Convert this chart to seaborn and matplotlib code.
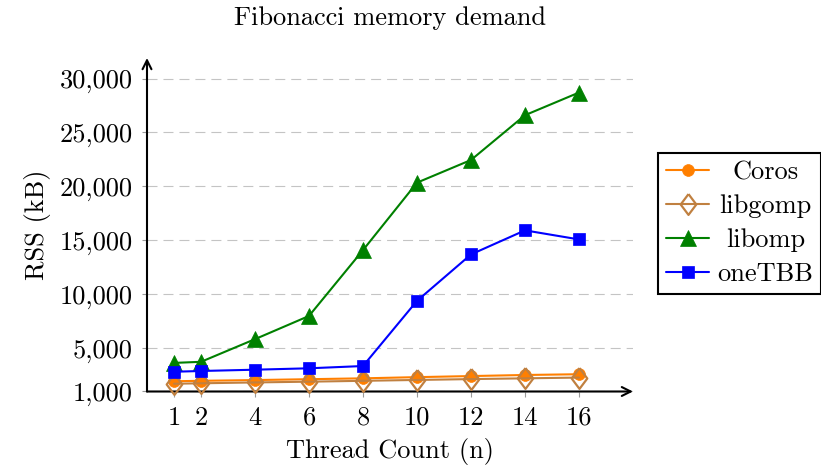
import matplotlib
matplotlib.use("Agg")
import matplotlib.pyplot as plt
import matplotlib.ticker as mticker
import matplotlib.transforms as mtransforms
import seaborn as sns
import pandas as pd

threads = [1, 2, 4, 6, 8, 10, 12, 14, 16]
coros = [1950, 1990, 2060, 2140, 2220, 2330, 2430, 2530, 2600]
libgomp = [1720, 1760, 1840, 1910, 1990, 2070, 2150, 2220, 2290]
libomp = [3650, 3750, 5850, 8000, 14100, 20350, 22450, 26600, 28700]
onetbb = [2830, 2900, 3020, 3150, 3360, 9400, 13700, 15930, 15090]
series_names = ["Coros", "libgomp", "libomp", "oneTBB"]
yticks = [1000, 5000, 10000, 15000, 20000, 25000, 30000]
xticks = threads

sns.set_theme(style="white")
plt.rcParams["font.family"] = ["cmr10", "DejaVu Serif"]
plt.rcParams["mathtext.fontset"] = "cm"
plt.rcParams["axes.formatter.use_mathtext"] = True
plt.rcParams["lines.scale_dashes"] = False
plt.rcParams["text.color"] = "black"
plt.rcParams["axes.labelcolor"] = "black"
plt.rcParams["xtick.labelcolor"] = "black"
plt.rcParams["ytick.labelcolor"] = "black"

FS = 19

fig = plt.figure(figsize=(8.21, 4.70), dpi=100)
ax = fig.add_axes([147 / 821, 1 - 391.5 / 470, (633 - 147) / 821, (391.5 - 58) / 470])

diamond = [(0, 1), (0.75, 0), (0, -1), (-0.75, 0), (0, 1)]
styles = {
    "Coros": dict(color="#ff7f00", marker="o", markersize=8.5, mfc="#ff7f00", mec="#ff7f00", mew=0.5),
    "libgomp": dict(color="#c08040", marker=diamond, markersize=15, mfc="none", mec="#c08040", mew=1.6),
    "libomp": dict(color="#008000", marker="^", markersize=11, mfc="#008000", mec="#008000", mew=0.5),
    "oneTBB": dict(color="#0000ff", marker="s", markersize=8.5, mfc="#0000ff", mec="#0000ff", mew=0.5),
}
values = {"Coros": coros, "libgomp": libgomp, "libomp": libomp, "oneTBB": onetbb}

for name in series_names:
    df = pd.DataFrame({"n": threads, "rss": values[name]})
    st = styles[name]
    sns.lineplot(data=df, x="n", y="rss", ax=ax, label=name, color=st["color"],
                 linewidth=1.5, clip_on=False)
    line = ax.lines[-1]
    line.set_marker(st["marker"])
    line.set_markersize(st["markersize"])
    line.set_markerfacecolor(st["mfc"])
    line.set_markeredgecolor(st["mec"])
    line.set_markeredgewidth(st["mew"])
    line.set_zorder(3)

ax.set_xlim(0, 18)
ax.set_ylim(1000, 31900)
ax.set_xticks(xticks)
ax.set_yticks(yticks)
ax.yaxis.set_major_formatter(mticker.FuncFormatter(lambda v, p: f"{int(v):,}"))
ax.xaxis.set_major_formatter(mticker.FuncFormatter(lambda v, p: f"{int(v)}"))

for s in ax.spines.values():
    s.set_visible(False)

ax.yaxis.grid(True, color="#c4c4c4", linestyle=(0, (7.2, 4.3)), linewidth=0.8)
ax.xaxis.grid(False)
ax.set_axisbelow(True)

ax.tick_params(axis="both", which="major", length=3.5, width=0.8, color="#999999",
               direction="out", labelsize=FS, labelcolor="black", left=True, bottom=True)
ax.tick_params(axis="y", pad=7)
ax.tick_params(axis="x", pad=7)

arrow_kw = dict(arrowstyle="->", lw=1.5, color="black", shrinkA=0, shrinkB=0, mutation_scale=16)
ax.annotate("", xy=(1.0, 0), xytext=(0, 0), xycoords="axes fraction", textcoords="axes fraction",
            arrowprops=arrow_kw, zorder=2)
ax.annotate("", xy=(0, 1.0), xytext=(0, 0), xycoords="axes fraction", textcoords="axes fraction",
            arrowprops=arrow_kw, zorder=2)

ax.set_xlabel("Thread Count (n)", fontsize=FS, labelpad=6, color="black")
ax.set_ylabel("RSS (kB)", fontsize=FS, labelpad=6, color="black")
fig.text(390 / 821, 1 - 18 / 470, "Fibonacci memory demand", ha="center", va="center",
         fontsize=FS, color="black")

leg = ax.legend(loc="center left", bbox_to_anchor=(658 / 821, 1 - 223.5 / 470),
                bbox_transform=fig.transFigure, fontsize=FS, frameon=True, fancybox=False,
                edgecolor="black", framealpha=1, borderpad=0.3, handlelength=1.65,
                handletextpad=0.3, labelspacing=0.38, borderaxespad=0)
leg.get_frame().set_linewidth(1.5)
for t in leg.get_texts():
    t.set_color("black")

# centre the legend labels within their column, like the reference
fig.canvas.draw()
renderer = fig.canvas.get_renderer()
texts = leg.get_texts()
widths = [t.get_window_extent(renderer).width for t in texts]
wmax = max(widths)
for t, w in zip(texts, widths):
    dx = (wmax - w) / 2.0
    t.set_transform(t.get_transform() + mtransforms.Affine2D().translate(dx, 0))

fig.savefig("out.png", dpi=100)
